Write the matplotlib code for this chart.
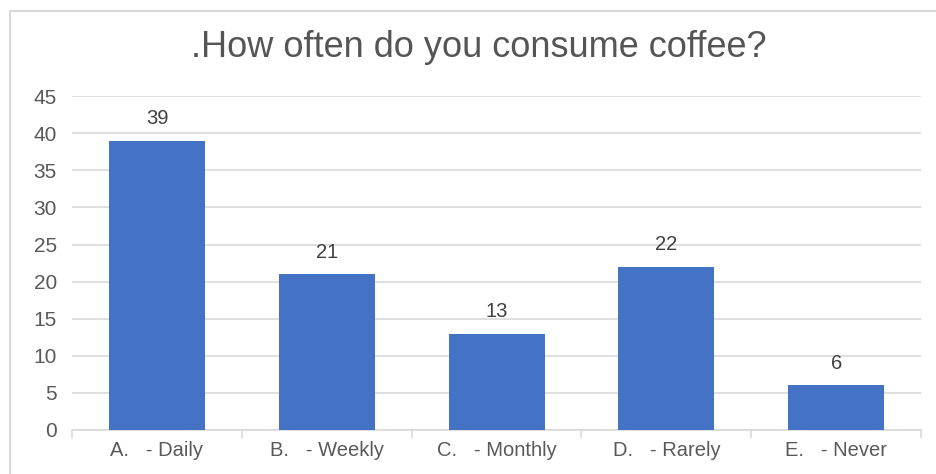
import matplotlib.pyplot as plt
from matplotlib.patches import Rectangle

categories = ['A.   - Daily', 'B.   - Weekly', 'C.   - Monthly', 'D.   - Rarely', 'E.   - Never']
counts = [39, 21, 13, 22, 6]
title = '.How often do you consume coffee?'

plt.rcParams['font.family'] = ['Liberation Sans', 'DejaVu Sans']

fig = plt.figure(figsize=(9.36, 4.74), dpi=100)
ax = fig.add_axes([0.077, 0.093, 0.907, 0.704])

# chart border (cut off at right and bottom in the reference)
fig.patches.append(Rectangle((10 / 936, -0.1), 1.2, 1 - 11 / 474 + 0.1,
                             transform=fig.transFigure, fill=False,
                             edgecolor='#D9D9D9', linewidth=1.5))

x = list(range(len(categories)))
bars = ax.bar(x, counts, width=0.565, color='#4472C4', zorder=3)
for b, v in zip(bars, counts):
    ax.annotate(str(v), (b.get_x() + b.get_width() / 2, v), xytext=(0, 9),
                textcoords='offset points', ha='center', va='bottom',
                fontsize=14.5, color='#404040')

ax.set_xlim(-0.5, len(categories) - 0.5)
ax.set_ylim(0, 45)
ax.set_yticks(range(0, 46, 5))
ax.yaxis.grid(True, color='#D9D9D9', linewidth=1.2, zorder=0)
ax.set_xticks(x)
ax.set_xticklabels(categories)
ax.set_xticks([i + 0.5 for i in range(-1, len(categories))], minor=True)
ax.tick_params(axis='x', which='major', length=0, pad=8, labelsize=14.5, labelcolor='#595959')
ax.tick_params(axis='x', which='minor', length=6, color='#D9D9D9', width=1.2)
ax.tick_params(axis='y', length=0, pad=11, labelsize=15, labelcolor='#595959')
for s in ['top', 'right', 'left']:
    ax.spines[s].set_visible(False)
ax.spines['bottom'].set_color('#D9D9D9')
ax.spines['bottom'].set_linewidth(1.2)

fig.text(0.512, 0.899, title, ha='center', va='center', fontsize=26, color='#555555')

fig.savefig('out.png', dpi=100)
